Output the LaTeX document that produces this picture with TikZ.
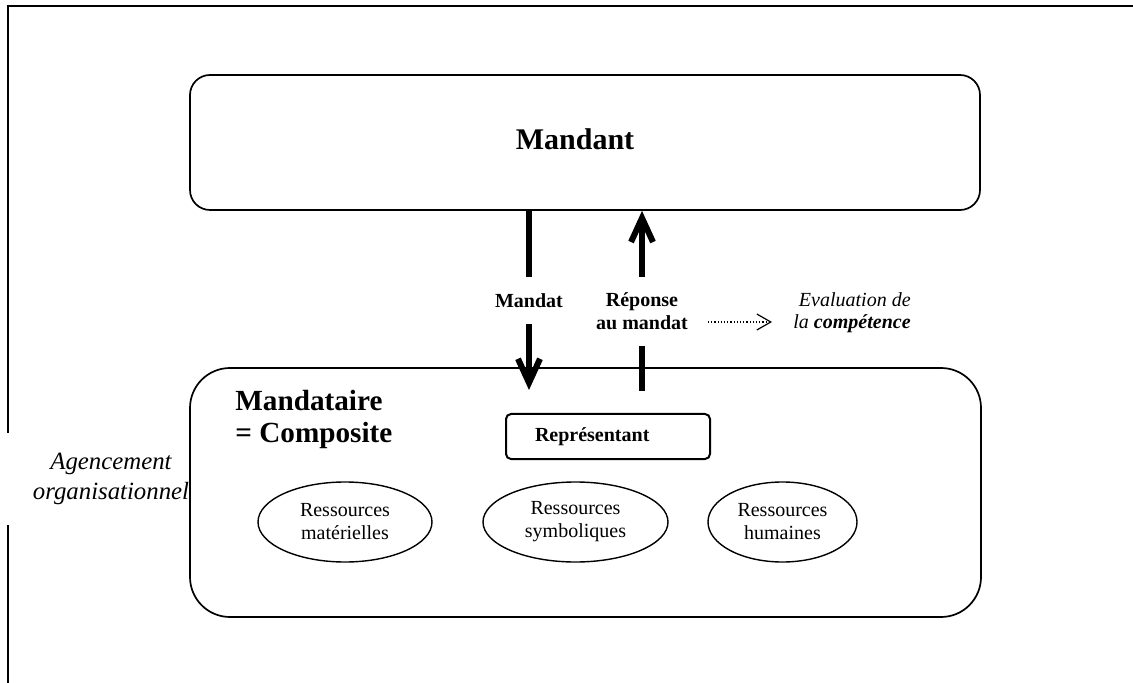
\documentclass[tikz,border=0pt]{standalone}
\usepackage{fontspec}
\setmainfont{Liberation Serif}
\usepackage{tikz}
\usetikzlibrary{positioning,shapes.geometric,arrows.meta}
\tikzstyle{bigbox}=[rectangle, draw=black, line width=0.85pt, inner sep=0pt]
\tikzstyle{repbox}=[rectangle, draw=black, line width=1pt, rounded corners=2.5pt,
        minimum width=102pt, minimum height=22.5pt, text width=73pt, inner xsep=14.5pt,
        align=left, font=\fontsize{10}{12}\selectfont\bfseries]
\tikzstyle{ressource}=[ellipse, draw=black, line width=0.7pt, minimum height=40pt,
        inner sep=0pt, align=center, font=\fontsize{10}{11.5}\selectfont]
\tikzstyle{flowlabel}=[inner sep=0pt, align=center, font=\fontsize{10}{11.5}\selectfont\bfseries]
\tikzstyle{myline}=[line width=3pt]
\tikzstyle{myarrow}=[-{Straight Barb[length=12pt,width=11pt]}, line width=3pt]
\tikzstyle{evalarrow}=[-{Straight Barb[length=7pt,width=8pt]}, line width=0.6pt, densely dotted]

\begin{document}
\begin{tikzpicture}[x=0.5pt,y=-0.5pt]
	\useasboundingbox (0,0) rectangle (1133,683);

	\draw[line width=1pt, line join=miter] (1133,6) -- (8,6) -- (8,683);

	\node (agencement) [fill=white, inner xsep=14pt, minimum height=46pt, align=center,
        font=\fontsize{12.4}{15}\selectfont\itshape] at (111,479)
        {Agencement\\organisationnel};

	\node (mandant) [bigbox, rounded corners=10pt, minimum width=395pt,
        minimum height=67.5pt] at (585,142.5) {};
	\node (mandanttitle) [inner sep=0pt, font=\fontsize{15}{18}\selectfont\bfseries]
        at (575,139) {Mandant};

	\node (mandataire) [bigbox, rounded corners=20pt, minimum width=395.5pt,
        minimum height=124.5pt] at (585.5,492.5) {};
	\node (composite) [anchor=west, inner sep=0pt, align=left,
        font=\fontsize{14.6}{16}\selectfont\bfseries] at (235,419)
        {Mandataire\\= Composite};

	\node (representant) [repbox] at (608,436.5) {Représentant};

	\node (materielles) [ressource, minimum width=87pt] at (345,522) {Ressources\\matérielles};
	\node (symboliques) [ressource, minimum width=92.5pt] at (575.5,522) {Ressources\\symboliques};
	\node (humaines) [ressource, minimum width=74.5pt] at (782.5,522) {Ressources\\humaines};

	\node (mandat) [flowlabel, minimum height=23.5pt] at (529,300.5) {Mandat};
	\node (reponse) [flowlabel, minimum height=34.5pt] at (642,311.5) {Réponse\\au mandat};
	\node (evaluation) [anchor=east, inner sep=0pt, align=right,
        font=\fontsize{10}{11}\selectfont\itshape] at (911,312.5)
        {Evaluation de\\la \textbf{compétence}};

	\coordinate (mandattip) at (529,390);
	\coordinate (reponsefoot) at (642,391);
	\coordinate (evalfrom) at (708,322);
	\coordinate (evalto) at (772,322);

\draw[myline] (mandant.south -| mandat) -- (mandat.north);
\draw[myarrow] (mandat.south) -- (mandattip);
\draw[myline] (reponsefoot) -- (reponse.south);
\draw[myarrow] (reponse.north) -- (reponse |- mandant.south);
\draw[evalarrow] (evalfrom) -- (evalto);

\end{tikzpicture}
\end{document}
